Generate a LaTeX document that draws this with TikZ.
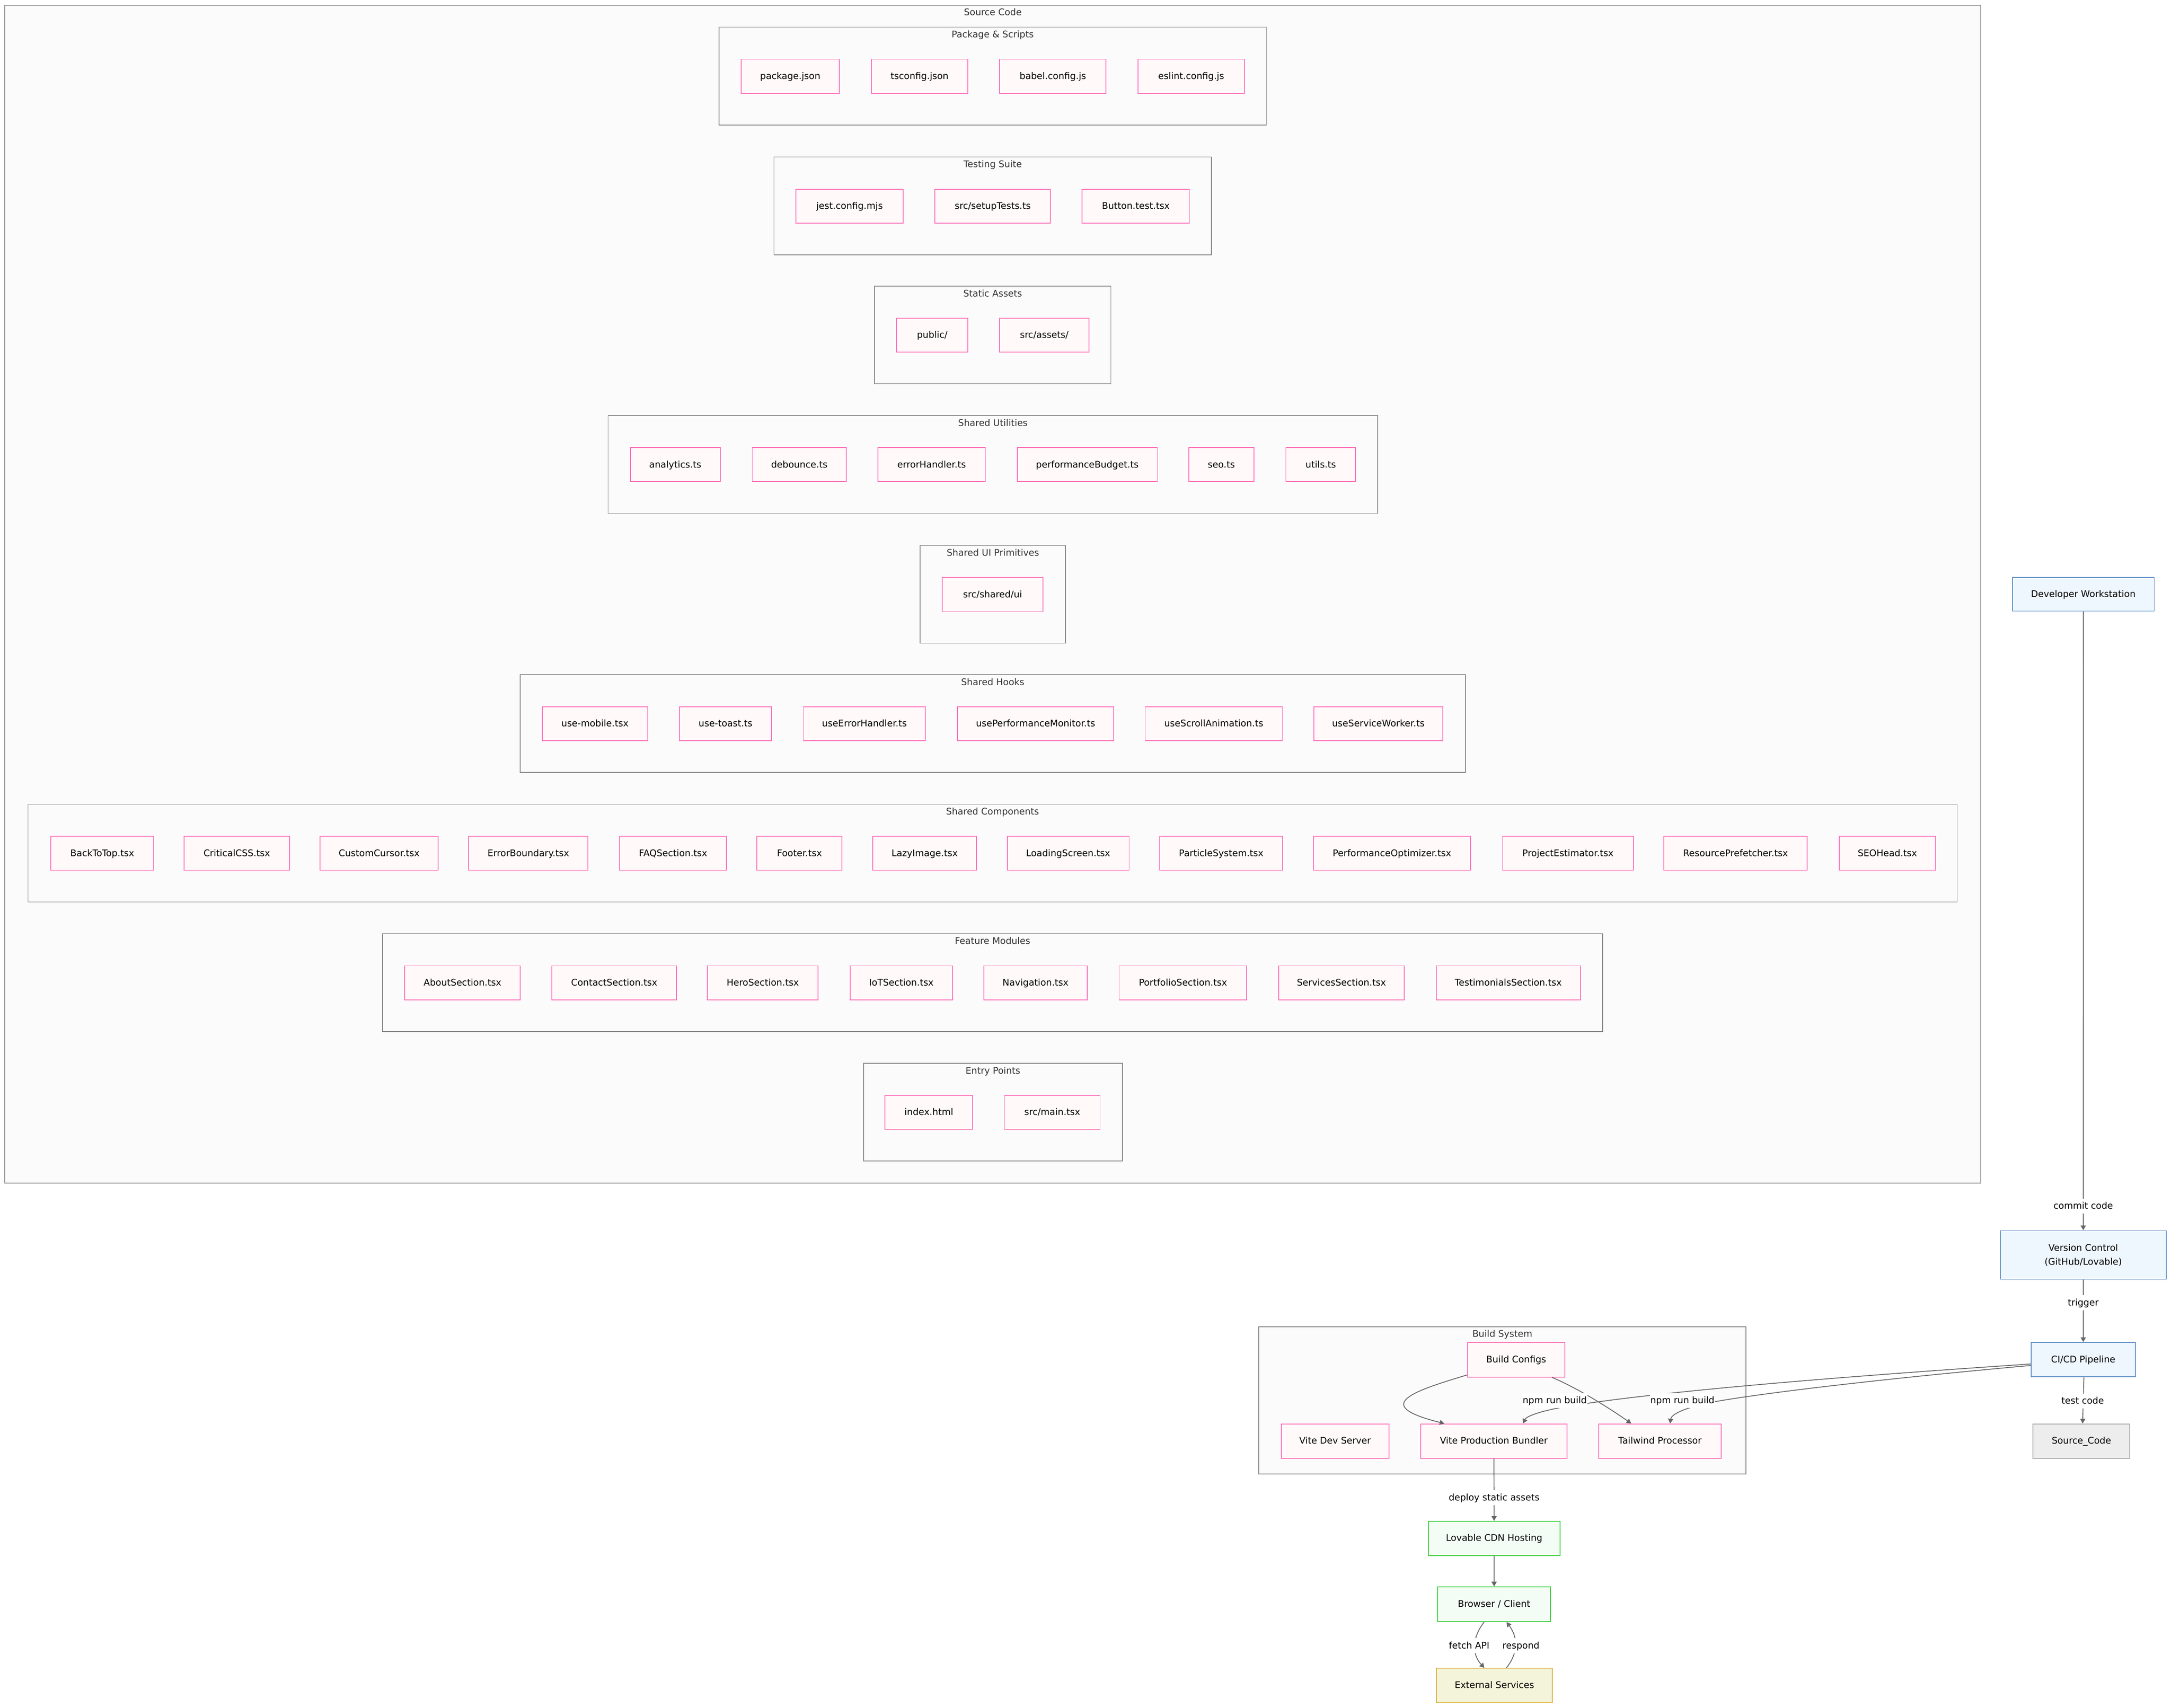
\documentclass[tikz,border=0pt]{standalone}
\usepackage{fontspec}
\setmainfont{DejaVu Sans}
\usetikzlibrary{arrows.meta,calc}
\definecolor{pinkS}{HTML}{FF70B8}
\definecolor{pinkF}{HTML}{FFF9F9}
\definecolor{blueS}{HTML}{5B8EC6}
\definecolor{blueF}{HTML}{EEF6FE}
\definecolor{grayS}{HTML}{A9A9A9}
\definecolor{grayF}{HTML}{EDEDED}
\definecolor{greenS}{HTML}{40D040}
\definecolor{greenF}{HTML}{F3FDF5}
\definecolor{yelS}{HTML}{DAA82A}
\definecolor{yelF}{HTML}{F4F4DA}
\definecolor{clS}{HTML}{858585}
\definecolor{clF}{HTML}{FBFBFB}
\definecolor{edgeC}{HTML}{666666}
\definecolor{titleC}{HTML}{333333}
\newcommand{\bx}[7]{\node[#1,minimum width={#4pt-#3pt},minimum height={#6pt-#5pt}] (#2) at ({(#3+#4)/2},{(#5+#6)/2}) {#7};}
\newcommand{\cl}[6]{\node[cluster,minimum width={#3pt-#2pt},minimum height={#5pt-#4pt}] (#1) at ({(#2+#3)/2},{(#4+#5)/2}) {};
  \node[ctitle] (#1t) at ($(#1.north)+(0,7.85)$) {#6};}
\begin{document}
\begin{tikzpicture}[x=1pt,y=-1pt,
  font=\fontsize{6.6}{10}\selectfont,
  base/.style={inner sep=0pt,line width=.6pt},
  one/.style={text height=5.4pt,text depth=1.2pt},
  fnode/.style={base,one,draw=pinkS,fill=pinkF},
  bnode/.style={base,one,draw=blueS,fill=blueF},
  snode/.style={base,one,draw=grayS,fill=grayF},
  gnode/.style={base,one,draw=greenS,fill=greenF},
  ynode/.style={base,one,draw=yelS,fill=yelF},
  cluster/.style={inner sep=0pt,draw=clS,fill=clF,line width=.55pt},
  ctitle/.style={anchor=base,inner sep=0pt,text=titleC},
  elabel/.style={fill=white,inner xsep=.4pt,inner ysep=2.1pt,text height=5.4pt,text depth=1.2pt},
  edge/.style={draw=edgeC,line width=.6pt,-{Triangle[length=3.4pt,width=3.7pt]}}]
\fill[white] (0,0) rectangle (1568,1233.5);
\useasboundingbox (0,0) rectangle (1568,1233.5);
% clusters
\cl{src}{3.5}{1430.6}{3.7}{854.6}{Source Code}
\cl{cpkg}{519.3}{914.6}{19.6}{90.2}{Package \& Scripts}
\cl{ctest}{559.0}{875.0}{113.4}{184.0}{Testing Suite}
\cl{cstat}{631.6}{802.3}{206.7}{277.3}{Static Assets}
\cl{cutil}{439.2}{995.0}{300.2}{370.8}{Shared Utilities}
\cl{cui}{664.6}{769.6}{394.0}{464.6}{Shared UI Primitives}
\cl{chook}{375.6}{1058.4}{487.3}{557.9}{Shared Hooks}
\cl{ccomp}{20.2}{1413.5}{580.9}{651.5}{Shared Components}
\cl{cfeat}{276.2}{1157.5}{674.4}{745.0}{Feature Modules}
\cl{centry}{623.7}{810.6}{768.0}{838.6}{Entry Points}
\cl{bsys}{909.2}{1260.9}{958.3}{1064.7}{Build System}
% row 1
\bx{fnode}{pkg}{535.3}{606.2}{42.8}{67.3}{package.json}
\bx{fnode}{tsc}{629.3}{699.0}{42.8}{67.3}{tsconfig.json}
\bx{fnode}{bab}{722.0}{798.8}{42.8}{67.3}{babel.config.js}
\bx{fnode}{esl}{821.9}{898.7}{42.8}{67.3}{eslint.config.js}
% row 2
\bx{fnode}{jest}{574.9}{652.3}{136.6}{161.1}{jest.config.mjs}
\bx{fnode}{setup}{675.3}{758.7}{136.6}{161.1}{src/setupTests.ts}
\bx{fnode}{btest}{781.6}{859.1}{136.6}{161.1}{Button.test.tsx}
% row 3
\bx{fnode}{pub}{647.6}{699.0}{229.9}{254.4}{public/}
\bx{fnode}{assets}{722.0}{786.4}{229.9}{254.4}{src/assets/}
% row 4
\bx{fnode}{ana}{455.2}{520.2}{323.4}{347.9}{analytics.ts}
\bx{fnode}{deb}{543.3}{611.3}{323.4}{347.9}{debounce.ts}
\bx{fnode}{errh}{634.0}{711.7}{323.4}{347.9}{errorHandler.ts}
\bx{fnode}{pbud}{734.7}{835.9}{323.4}{347.9}{performanceBudget.ts}
\bx{fnode}{seo}{858.6}{905.6}{323.4}{347.9}{seo.ts}
\bx{fnode}{utl}{928.7}{979.1}{323.4}{347.9}{utils.ts}
% row 5
\bx{fnode}{sui}{680.6}{753.2}{417.2}{441.7}{src/shared/ui}
% row 6
\bx{fnode}{umob}{391.6}{467.8}{510.5}{535.0}{use-mobile.tsx}
\bx{fnode}{utoast}{490.8}{557.2}{510.5}{535.0}{use-toast.ts}
\bx{fnode}{uerr}{580.3}{668.4}{510.5}{535.0}{useErrorHandler.ts}
\bx{fnode}{uperf}{691.5}{804.4}{510.5}{535.0}{usePerformanceMonitor.ts}
\bx{fnode}{uscroll}{827.1}{926.2}{510.5}{535.0}{useScrollAnimation.ts}
\bx{fnode}{usw}{948.9}{1042.1}{510.5}{535.0}{useServiceWorker.ts}
% row 7
\bx{fnode}{btt}{36.7}{111.0}{604.1}{628.6}{BackToTop.tsx}
\bx{fnode}{ccss}{133.0}{209.1}{604.1}{628.6}{CriticalCSS.tsx}
\bx{fnode}{ccur}{231.2}{316.5}{604.1}{628.6}{CustomCursor.tsx}
\bx{fnode}{ebound}{338.5}{424.7}{604.1}{628.6}{ErrorBoundary.tsx}
\bx{fnode}{faq}{447.6}{524.7}{604.1}{628.6}{FAQSection.tsx}
\bx{fnode}{foot}{546.7}{608.2}{604.1}{628.6}{Footer.tsx}
\bx{fnode}{lazy}{630.2}{705.4}{604.1}{628.6}{LazyImage.tsx}
\bx{fnode}{load}{727.4}{815.5}{604.1}{628.6}{LoadingScreen.tsx}
\bx{fnode}{part}{837.5}{926.5}{604.1}{628.6}{ParticleSystem.tsx}
\bx{fnode}{popt}{948.5}{1062.2}{604.1}{628.6}{PerformanceOptimizer.tsx}
\bx{fnode}{pest}{1085.2}{1179.7}{604.1}{628.6}{ProjectEstimator.tsx}
\bx{fnode}{rpre}{1201.7}{1305.3}{604.1}{628.6}{ResourcePrefetcher.tsx}
\bx{fnode}{seoh}{1328.3}{1398.0}{604.1}{628.6}{SEOHead.tsx}
% row 8
\bx{fnode}{about}{292.3}{375.7}{697.6}{722.1}{AboutSection.tsx}
\bx{fnode}{contact}{398.7}{488.5}{697.6}{722.1}{ContactSection.tsx}
\bx{fnode}{hero}{510.9}{590.9}{697.6}{722.1}{HeroSection.tsx}
\bx{fnode}{iot}{613.9}{688.1}{697.6}{722.1}{IoTSection.tsx}
\bx{fnode}{nav}{710.5}{785.3}{697.6}{722.1}{Navigation.tsx}
\bx{fnode}{port}{808.3}{900.4}{697.6}{722.1}{PortfolioSection.tsx}
\bx{fnode}{serv}{923.4}{1014.3}{697.6}{722.1}{ServicesSection.tsx}
\bx{fnode}{testi}{1037.3}{1141.4}{697.6}{722.1}{TestimonialsSection.tsx}
% row 9
\bx{fnode}{idx}{639.2}{702.5}{791.2}{815.7}{index.html}
\bx{fnode}{mainf}{725.5}{794.5}{791.2}{815.7}{src/main.tsx}
% pipeline
\bx{bnode}{dev}{1453.4}{1555.9}{417.2}{441.4}{Developer Workstation}
\node[base,draw=blueS,fill=blueF,align=center,minimum width=119.6pt,minimum height=35.1pt] (vc) at (1504.6,906.45) {Version Control\\(GitHub/Lovable)};
\bx{bnode}{ci}{1467.0}{1542.2}{969.7}{994.5}{CI/CD Pipeline}
\bx{snode}{sc}{1468.2}{1538.3}{1028.5}{1053.3}{Source\_Code}
% build system
\bx{fnode}{bc}{1060.0}{1130.1}{969.7}{994.6}{Build Configs}
\bx{fnode}{vds}{925.4}{1003.1}{1028.5}{1053.3}{Vite Dev Server}
\bx{fnode}{vpb}{1026.0}{1131.8}{1028.5}{1053.3}{Vite Production Bundler}
\bx{fnode}{tw}{1154.7}{1243.1}{1028.5}{1053.3}{Tailwind Processor}
% deployment
\bx{gnode}{cdn}{1031.6}{1126.7}{1098.8}{1123.5}{Lovable CDN Hosting}
\bx{gnode}{br}{1038.3}{1119.9}{1146.2}{1171.3}{Browser / Client}
\bx{ynode}{ext}{1037.5}{1121.2}{1205.0}{1229.9}{External Services}
% edges
\draw[edge] (dev) -- (vc) node[elabel] at (1504.6,871.1) {commit code};
\draw[edge] (vc) -- (ci) node[elabel] at (1504.6,940.9) {trigger};
\draw[edge] ($(ci.south)+(0.5,0)$) -- ($(sc.north)+(0.9,0)$) node[elabel] at (1504.2,1012.0) {test code};
\draw[edge] ($(bc.south west)+(0,-1.8)$) .. controls (1020,1005) and (990,1015) .. ($(vpb.north)+(-35.7,0)$);
\draw[edge] ($(bc.south)+(25.85,0)$) .. controls (1138,1002) and (1160,1015.5) .. ($(tw.north)+(-20.7,0)$);
\draw[edge] ($(ci.west)+(0,3.1)$) .. controls (1350,993) and (1220,1003) .. (1146,1013.7) .. controls (1120,1017) and (1103,1022) .. ($(vpb.north)+(21,0)$) node[elabel] at (1122.9,1011.6) {npm run build};
\draw[edge] ($(ci.west)+(0,4.2)$) .. controls (1380,994) and (1280,1005) .. (1237.6,1012.6) .. controls (1215,1017) and (1207,1022) .. ($(tw.north)+(7.3,0)$) node[elabel] at (1215.1,1011.6) {npm run build};
\draw[edge] (vpb) -- (cdn) node[elabel] at (1079.1,1081.8) {deploy static assets};
\draw[edge] (cdn) -- (br);
\draw[edge] ($(br.south)+(-7.2,0)$) .. controls (1063,1183) and (1063,1195) .. ($(ext.north)+(-7.25,0)$) node[elabel] at (1061.1,1188.7) {fetch API};
\draw[edge] ($(ext.north)+(8.65,0)$) .. controls (1096.5,1194) and (1096.5,1183) .. ($(br.south)+(9,0)$) node[elabel] at (1098.5,1188.7) {respond};
\end{tikzpicture}
\end{document}
